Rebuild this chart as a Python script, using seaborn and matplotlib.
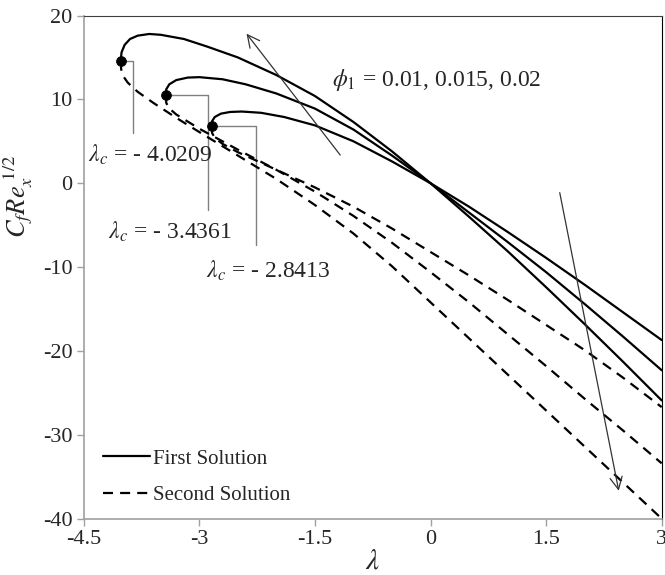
import numpy as np
import pandas as pd
import matplotlib
matplotlib.use('Agg')
import matplotlib.pyplot as plt
import seaborn as sns
from matplotlib.lines import Line2D

# critical points (lambda_c, Cf Re^1/2)
lam_c = [-4.0209, -3.4361, -2.8413]
cf_c = [14.6, 10.5, 6.8]
lam_c_labels = ['- 4.0209', '- 3.4361', '- 2.8413']

# first solution (upper branch), one list per phi1
first_x = [
    [-4.0209, -4.01, -3.97, -3.9, -3.8, -3.65, -3.5, -3.2, -2.9, -2.5, -2.0, -1.5, -1.0, -0.5, 0, 0.5, 1.0, 1.5, 2.0, 2.5, 3.0],
    [-3.4361, -3.43, -3.39, -3.3, -3.15, -3.0, -2.7, -2.4, -2.0, -1.5, -1.0, -0.5, 0, 0.5, 1.0, 1.5, 2.0, 2.5, 3.0],
    [-2.8413, -2.835, -2.8, -2.72, -2.6, -2.45, -2.2, -1.9, -1.5, -1.0, -0.5, 0, 0.5, 1.0, 1.5, 2.0, 2.5, 3.0],
]
first_y = [
    [14.6, 15.6, 16.5, 17.2, 17.6, 17.8, 17.7, 17.2, 16.3, 15.0, 12.9, 10.4, 7.3, 3.8, 0, -4.0, -8.1, -12.4, -16.8, -21.3, -25.9],
    [10.5, 11.2, 11.8, 12.3, 12.6, 12.65, 12.4, 11.8, 10.7, 8.9, 6.4, 3.3, 0, -3.5, -7.0, -10.6, -14.4, -18.3, -22.3],
    [6.8, 7.4, 7.9, 8.3, 8.5, 8.55, 8.4, 7.9, 6.9, 5.0, 2.6, 0, -2.8, -5.8, -8.9, -12.1, -15.4, -18.7],
]

# second solution (lower branch)
second_x = [
    [-4.0209, -4.015, -3.99, -3.93, -3.8, -3.6, -3.3, -3.0, -2.5, -2.0, -1.5, -1.0, -0.5, 0, 0.5, 1.0, 1.5, 2.0, 2.5, 3.0],
    [-3.4361, -3.43, -3.4, -3.3, -3.0, -2.5, -2.0, -1.5, -1.0, -0.5, 0, 0.5, 1.0, 1.5, 2.0, 2.5, 3.0],
    [-2.8413, -2.835, -2.8, -2.7, -2.5, -2.0, -1.5, -1.0, -0.5, 0, 0.5, 1.0, 1.5, 2.0, 2.5, 3.0],
]
second_y = [
    [14.6, 13.6, 12.8, 12.0, 10.9, 9.6, 7.8, 6.1, 3.3, 0.5, -2.6, -6.0, -9.9, -14.2, -18.5, -22.8, -27.1, -31.4, -35.7, -40.0],
    [10.5, 9.6, 9.0, 8.2, 6.5, 4.0, 1.6, -1.0, -3.9, -7.1, -10.6, -14.2, -18.0, -21.8, -25.7, -29.5, -33.4],
    [6.8, 6.0, 5.4, 4.7, 3.7, 1.6, -0.5, -2.8, -5.4, -8.2, -11.0, -13.9, -16.9, -19.9, -23.2, -26.7],
]

sns.set_style('white')
plt.rcParams['font.family'] = ['Liberation Serif', 'DejaVu Serif']
plt.rcParams['mathtext.fontset'] = 'stix'
plt.rcParams['axes.unicode_minus'] = False

DASH = (0, (4.5, 3.2))

fig = plt.figure(figsize=(6.65, 5.75), dpi=100)
ax = fig.add_axes([0.126, 0.098, 0.869, 0.875])

for xs, ys in zip(first_x, first_y):
    sns.lineplot(x=xs, y=ys, sort=False, color='black', lw=1.6, ax=ax)
for xs, ys in zip(second_x, second_y):
    sns.lineplot(x=xs, y=ys, sort=False, color='black', lw=1.6, ax=ax,
                 dashes=False, linestyle=DASH)
sns.scatterplot(x=lam_c, y=cf_c, color='black', s=50, zorder=5, ax=ax, edgecolor='black')

# leader lines to lambda_c labels
leader_x = [-3.86, -2.89, -2.27]
leader_y = [6.0, -3.2, -7.4]
label_pos = [(-3.64, 3.4), (-3.38, -5.8), (-2.11, -10.4)]
for lx, ly, x0, y0, lab, (tx, ty) in zip(leader_x, leader_y, lam_c, cf_c, lam_c_labels, label_pos):
    ax.plot([x0, lx, lx], [y0, y0, ly], color='#808080', lw=1.0, zorder=1)
    ax.text(tx, ty, r'$\lambda_c$' + ' = ' + lab, fontsize=17, ha='center', va='center')

ax.text(-1.28, 12.3, r'$\phi_1$' + ' = 0.01, 0.015, 0.02', fontsize=17, ha='left', va='center')

ax.annotate('', xy=(-2.41, 18.1), xytext=(-1.15, 3.1),
            arrowprops=dict(arrowstyle='->', lw=0.9, color='#333333', mutation_scale=22))
ax.annotate('', xy=(2.45, -37.0), xytext=(1.67, -0.8),
            arrowprops=dict(arrowstyle='->', lw=0.9, color='#333333', mutation_scale=22))

handles = [Line2D([], [], color='black', lw=1.6),
           Line2D([], [], color='black', lw=1.6, linestyle=DASH)]
ax.legend(handles, ['First Solution', 'Second Solution'], loc='lower left',
          bbox_to_anchor=(0.0, -0.01), frameon=False, fontsize=15, handlelength=2.3,
          handletextpad=0.1, labelspacing=0.8)

ax.set_xlim(-4.5, 3)
ax.set_ylim(-40, 20)
ax.set_xticks([-4.5, -3, -1.5, 0, 1.5, 3])
ax.set_xticklabels(['-4.5', '-3', '-1.5', '0', '1.5', '3'])
ax.set_yticks([-40, -30, -20, -10, 0, 10, 20])
ax.tick_params(axis='both', labelsize=16, length=5, width=1, color='#a0a0a0',
               direction='out', bottom=True, left=True, pad=3)
for side in ['left', 'bottom']:
    ax.spines[side].set_color('#a0a0a0')
    ax.spines[side].set_linewidth(1.2)
ax.spines['top'].set_color('#404040')
ax.spines['right'].set_color('black')
ax.set_xlabel(r'$\lambda$', fontsize=21, labelpad=0)
ax.set_ylabel(r'$C_fRe_x^{\ 1/2}$', fontsize=19, labelpad=0)
ax.yaxis.set_label_coords(-0.085, 0.64)

fig.savefig('out.png', dpi=100)
